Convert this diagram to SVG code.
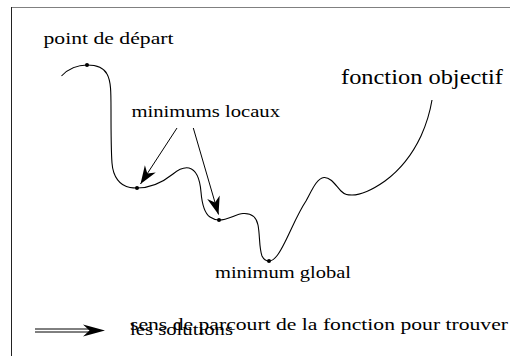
<svg xmlns="http://www.w3.org/2000/svg" width="510" height="358" viewBox="0 0 510 358">
<style>
  text { font-family: "Liberation Serif", serif; font-size: 16.5px; fill: #000; }
  .big { font-size: 21px; }
  .curve { fill: none; stroke: #000; stroke-width: 1.1; }
  .conn { fill: none; stroke: #000; stroke-width: 1; }
  .dot { fill: #000; }
</style>
<defs>
  <marker id="head" markerUnits="userSpaceOnUse" markerWidth="24" markerHeight="16" viewBox="-20 -8 22 16" refX="0" refY="0" orient="auto">
    <path d="M0,0 L-18,-6.5 L-12.5,0 L-18,6.5 Z" fill="#000"/>
  </marker>
</defs>
<rect width="510" height="358" fill="#fff"/>
<g id="frame">
  <line x1="11" y1="7.5" x2="510" y2="7.5" stroke="#808080" stroke-width="1"/>
  <line x1="11.5" y1="7" x2="11.5" y2="356" stroke="#222" stroke-width="1"/>
</g>
<g id="objective-curve">
  <path class="curve" d="M61.5,76 C68,69 78,65 87,65 C97,65 104,68 107,74 C111,81 111,92 111,110 C111,130 111,150 112,163 C113,177 120,186 130,187.5 C133,188 135,188 137,188 C152,188 163,182 173,174 C179,169 184,167 189,168 C197,170 200,180 201,192 C202,204 204,213 210,217 C213,219 216,220 219,220 C228,220 236,214 243,213.5 C250,213 256,215 258,225 C260,235 259,248 262,256 C264,260 266,261 269,261 C275,261 280,252 285,242 C292,228 298,213 306,201 C312,190 317,178 324,177.5 C331,177 336,186 341,191 C345,195 348,195 352,195 C362,195 375,188 385,181 C400,170 413,153 421,136 C426,125 430,112 432,100"/>
</g>
<g id="start-point">
  <circle class="dot" cx="87" cy="65" r="2"/>
  <text x="43.5" y="44" textLength="130" lengthAdjust="spacingAndGlyphs">point de départ</text>
</g>
<g id="local-min-1">
  <circle class="dot" cx="137" cy="188" r="2"/>
</g>
<g id="local-min-2">
  <circle class="dot" cx="219" cy="220" r="2"/>
</g>
<g id="local-min-label">
  <text x="131.5" y="117" textLength="148.5" lengthAdjust="spacingAndGlyphs">minimums locaux</text>
</g>
<g id="global-min">
  <circle class="dot" cx="269" cy="261" r="2"/>
  <text x="215" y="278" textLength="136" lengthAdjust="spacingAndGlyphs">minimum global</text>
</g>
<g id="objective-label">
  <text class="big" x="341" y="84" textLength="162" lengthAdjust="spacingAndGlyphs">fonction objectif</text>
</g>
<g id="connectors">
  <line class="conn" x1="177" y1="128" x2="140.5" y2="184" marker-end="url(#head)"/>
  <line class="conn" x1="193.3" y1="128" x2="218.5" y2="214.5" marker-end="url(#head)"/>
</g>
<g id="legend">
  <line class="conn" x1="35" y1="329" x2="92" y2="329"/>
  <line class="conn" x1="35" y1="332" x2="92" y2="332"/>
  <path d="M105,330.5 L83,324.5 L89.5,330.5 L83,336.5 Z" fill="#000"/>
  <text x="130" y="329.5" textLength="378" lengthAdjust="spacingAndGlyphs">sens de parcourt de la fonction pour trouver</text>
  <text x="130" y="335" textLength="103" lengthAdjust="spacingAndGlyphs">les solutions</text>
</g>
</svg>
